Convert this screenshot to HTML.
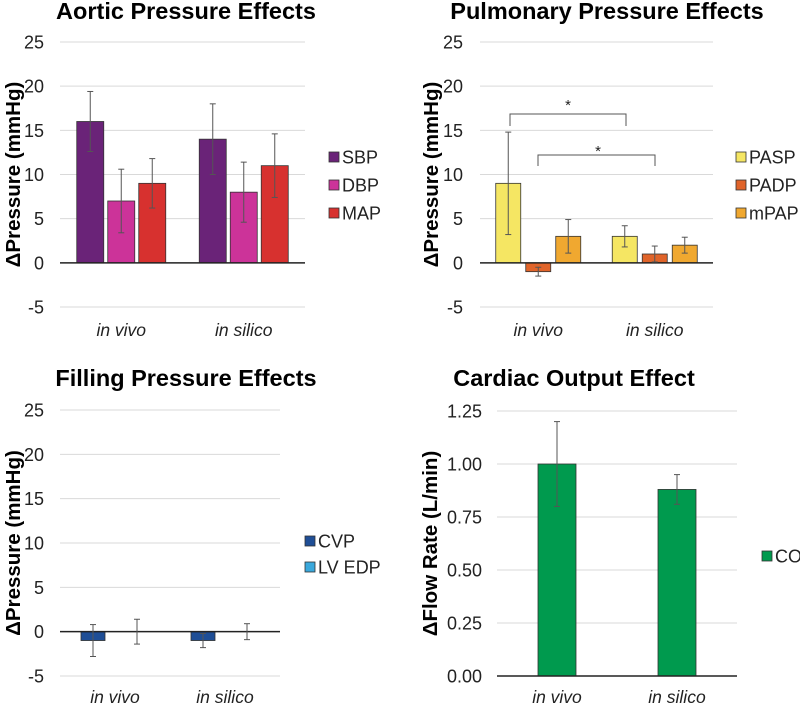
<!DOCTYPE html>
<html><head><meta charset="utf-8"><style>
html,body{margin:0;padding:0;background:#fff;}
svg{display:block;font-family:"Liberation Sans",Arial,sans-serif;}
</style></head><body>
<svg id="fig" width="800" height="704" viewBox="0 0 800 704"></svg>
<script>
const categories = ["in vivo", "in silico"];
const aorticSeries = ["SBP", "DBP", "MAP"];
const aorticValues = [[16, 14], [7, 8], [9, 11]];
const aorticErrors = [[3.4, 4], [3.6, 3.4], [2.8, 3.6]];
const pulmSeries = ["PASP", "PADP", "mPAP"];
const pulmValues = [[9, 3], [-1, 1], [3, 2]];
const pulmErrors = [[5.8, 1.2], [0.5, 0.9], [1.9, 0.9]];
const fillSeries = ["CVP", "LV EDP"];
const fillValues = [[-1, -1], [0, 0]];
const fillErrors = [[1.8, 0.8], [1.4, 0.9]];
const coSeries = ["CO"];
const coValues = [[1.00, 0.88]];
const coErrors = [[0.2, 0.07]];
const pressureTicks = [-5, 0, 5, 10, 15, 20, 25];
const flowTicks = [0, 0.25, 0.5, 0.75, 1.0, 1.25];

const NS = "http://www.w3.org/2000/svg";
const svg = document.getElementById("fig");
function mk(tag, attrs, parent, text) {
  const e = document.createElementNS(NS, tag);
  for (const k in attrs) e.setAttribute(k, attrs[k]);
  if (text !== undefined) e.textContent = text;
  (parent || svg).appendChild(e);
  return e;
}

function chart(cfg) {
  const g = mk("g", {});
  
  
  const yMin = cfg.ticks[0], yMax = cfg.ticks[cfg.ticks.length - 1];
  const y = v => cfg.yBottom - (v - yMin) / (yMax - yMin) * (cfg.yBottom - cfg.yTop);
  const gw = (cfg.x1 - cfg.x0) / categories.length;
  const nS = cfg.series.length;
  const step = cfg.barW + cfg.gap;
  const x = (ci, si) => cfg.x0 + gw * (ci + 0.5) - (nS * step - cfg.gap) / 2 + si * step;

  const t = mk("text", {x: cfg.titleX, y: cfg.titleY, "text-anchor": "middle", "font-size": 23.5, "font-weight": "bold", fill: "#000"}, g, cfg.title);
  
  

  cfg.ticks.forEach(tv => {
    if (tv !== 0) {
      const gl = mk("line", {x1: cfg.x0, x2: cfg.x1, y1: y(tv), y2: y(tv), stroke: "#d9d9d9", "stroke-width": 1}, g);
      
      
    }
    const lb = mk("text", {x: cfg.labelX, y: y(tv) + 6.5, "text-anchor": "end", "font-size": 18, fill: "#222"}, g, cfg.fmt(tv));
    
    
  });

  const yt = mk("text", {transform: `translate(${cfg.yTitleX},${(cfg.yTop + cfg.yBottom) / 2}) rotate(-90)`, "text-anchor": "middle", "font-size": 20.5, "font-weight": "bold", fill: "#000"}, g, cfg.yTitle);
  
  

  cfg.series.forEach((s, si) => {
    categories.forEach((c, ci) => {
      const v = cfg.values[si][ci];
      const bx = x(ci, si);
      const top = Math.min(y(v), y(0)), h = Math.abs(y(v) - y(0));
      if (h > 0) {
        const r = mk("rect", {x: bx, y: top, width: cfg.barW, height: h, fill: cfg.colors[si], stroke: "#333", "stroke-width": 0.8}, g);
        
        
      }
    });
  });

  const ax = mk("line", {x1: cfg.x0, x2: cfg.x1, y1: y(0), y2: y(0), stroke: "#222", "stroke-width": 1.5}, g);
  
  

  cfg.series.forEach((s, si) => {
    categories.forEach((c, ci) => {
      const v = cfg.values[si][ci], e = cfg.errors[si][ci];
      const cx = x(ci, si) + cfg.barW / 2;
      const eg = mk("g", {stroke: "#555", "stroke-width": 1}, g);
      
      
      mk("line", {x1: cx, x2: cx, y1: y(v + e), y2: y(v - e)}, eg);
      mk("line", {x1: cx - 3, x2: cx + 3, y1: y(v + e), y2: y(v + e)}, eg);
      mk("line", {x1: cx - 3, x2: cx + 3, y1: y(v - e), y2: y(v - e)}, eg);
    });
  });

  categories.forEach((c, ci) => {
    const xl = mk("text", {x: cfg.x0 + gw * (ci + 0.5), y: cfg.xLabelY, "text-anchor": "middle", "font-size": 17.5, "font-style": "italic", fill: "#222"}, g, c);
    
    
  });

  cfg.series.forEach((s, si) => {
    const ly = cfg.legendY + si * cfg.legendStep;
    const lg = mk("g", {}, g);
    
    
    mk("rect", {x: cfg.legendX, y: ly - 5, width: 10, height: 10, fill: cfg.colors[si], stroke: "#333", "stroke-width": 0.8}, lg);
    mk("text", {x: cfg.legendX + 13, y: ly + 6.5, "font-size": 18, fill: "#222"}, lg, s);
  });
  return {g, y, x};
}

chart({name: "aortic-chart", title: "Aortic Pressure Effects", titleX: 186, titleY: 19,
  x0: 60, x1: 305, yTop: 42, yBottom: 307, ticks: pressureTicks, fmt: v => String(v), labelX: 44,
  yTitle: "\u0394Pressure (mmHg)", yTitleX: 20, series: aorticSeries, values: aorticValues, errors: aorticErrors,
  colors: ["#6a2378", "#cc3399", "#d7312f"], barW: 27, gap: 4, xLabelY: 336,
  legendX: 329, legendY: 157, legendStep: 28});

chart({name: "pulmonary-chart", title: "Pulmonary Pressure Effects", titleX: 607, titleY: 19,
  x0: 480, x1: 713, yTop: 42, yBottom: 307, ticks: pressureTicks, fmt: v => String(v), labelX: 463,
  yTitle: "\u0394Pressure (mmHg)", yTitleX: 438, series: pulmSeries, values: pulmValues, errors: pulmErrors,
  colors: ["#f5e663", "#e0642a", "#f0a830"], barW: 25, gap: 5, xLabelY: 336,
  legendX: 736, legendY: 157, legendStep: 28});

const br = mk("g", {stroke: "#555", "stroke-width": 1, fill: "none"});


mk("path", {d: "M510,126 V114 H626 V126"}, br);
mk("path", {d: "M538,166 V155 H655 V166"}, br);
mk("text", {x: 568, y: 110, "text-anchor": "middle", "font-size": 15, fill: "#222", stroke: "none"}, br, "*");
mk("text", {x: 598, y: 156, "text-anchor": "middle", "font-size": 15, fill: "#222", stroke: "none"}, br, "*");

chart({name: "filling-chart", title: "Filling Pressure Effects", titleX: 186, titleY: 386,
  x0: 60, x1: 280, yTop: 410, yBottom: 676, ticks: pressureTicks, fmt: v => String(v), labelX: 44,
  yTitle: "\u0394Pressure (mmHg)", yTitleX: 20, series: fillSeries, values: fillValues, errors: fillErrors,
  colors: ["#1f4e96", "#3aa8dc"], barW: 24, gap: 20, xLabelY: 703,
  legendX: 305, legendY: 541, legendStep: 26});

chart({name: "cardiac-output-chart", title: "Cardiac Output Effect", titleX: 574, titleY: 386,
  x0: 497, x1: 737, yTop: 411, yBottom: 676, ticks: flowTicks, fmt: v => v.toFixed(2), labelX: 482,
  yTitle: "\u0394Flow Rate (L/min)", yTitleX: 437, series: coSeries, values: coValues, errors: coErrors,
  colors: ["#009a4e"], barW: 38, gap: 0, xLabelY: 703,
  legendX: 762, legendY: 556, legendStep: 26});
</script>
</body></html>
